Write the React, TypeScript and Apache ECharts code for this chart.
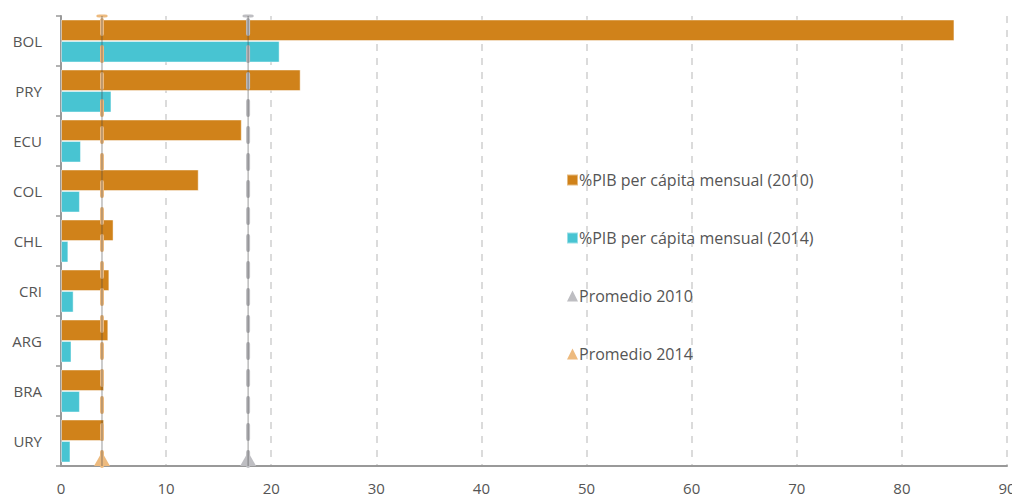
import React, { useEffect, useRef } from "react";
import * as echarts from "echarts";

const categories = ["BOL", "PRY", "ECU", "COL", "CHL", "CRI", "ARG", "BRA", "URY"];
const values2010 = [85.0, 22.8, 17.2, 13.1, 5.0, 4.6, 4.5, 4.1, 4.1];
const values2014 = [20.8, 4.8, 1.9, 1.8, 0.7, 1.2, 1.0, 1.8, 0.9];
const promedio2010 = 17.8;
const promedio2014 = 3.9;
const xTicks = [0, 10, 20, 30, 40, 50, 60, 70, 80, 90];

const C2010 = "#D0821A";
const C2014 = "#48C4D2";
const CP2010 = "#BEBEC2";
const CP2014 = "#EDBA7E";
const FONT = "Open Sans";

function avgSeries(name: string, v: number, color: string) {
  return [
    {
      name,
      type: "line",
      xAxisIndex: 0,
      yAxisIndex: 1,
      z: 5,
      lineStyle: { color, width: 4, type: [14, 13], cap: "round" },
      itemStyle: { color },
      data: [
        { value: [v, 0], symbol: "triangle", symbolSize: [16, 14], symbolOffset: [0, -7] },
        { value: [v, 1], symbol: "roundRect", symbolSize: [11, 3] },
      ],
    },
    {
      name: name + "_thin",
      type: "line",
      xAxisIndex: 0,
      yAxisIndex: 1,
      z: 6,
      symbol: "none",
      lineStyle: { color: "rgba(70,70,70,0.55)", width: 1 },
      data: [
        [v, 0],
        [v, 1],
      ],
    },
  ];
}

export default function App() {
  const ref = useRef<HTMLDivElement>(null);
  useEffect(() => {
    if (!ref.current) return;
    const chart = echarts.init(ref.current, undefined, { renderer: "svg" });
    chart.setOption({
      animation: false,
      textStyle: { fontFamily: FONT },
      grid: { left: 61, right: 5, top: 16, bottom: 32, containLabel: false, outerBoundsMode: "none" },
      legend: {
        orient: "vertical",
        left: 561,
        top: 167,
        itemGap: 42,
        itemWidth: 11,
        itemHeight: 11,
        textStyle: { fontSize: 16, color: "#555", fontFamily: FONT, padding: [0, 0, 0, -4] },
        data: [
          { name: "%PIB per cápita mensual (2010)", icon: "rect" },
          { name: "%PIB per cápita mensual (2014)", icon: "rect" },
          { name: "Promedio 2010", icon: "triangle" },
          { name: "Promedio 2014", icon: "triangle" },
        ],
      },
      xAxis: {
        type: "value",
        min: xTicks[0],
        max: xTicks[xTicks.length - 1],
        interval: 10,
        axisLine: { show: true, lineStyle: { color: "#999", width: 2 } },
        axisTick: { show: false },
        axisLabel: { color: "#555", fontSize: 15, margin: 14, fontFamily: FONT },
        splitLine: { show: true, lineStyle: { color: "#d0d0d0", width: 1.5, type: [7, 7] } },
      },
      yAxis: [
        {
          type: "category",
          data: categories,
          inverse: true,
          axisLine: { show: true, lineStyle: { color: "#999", width: 2 } },
          axisTick: { show: true, inside: false, length: 5, lineStyle: { color: "#999", width: 1.5 } },
          axisLabel: { color: "#555", fontSize: 15, margin: 19, fontFamily: FONT },
          splitLine: { show: false },
        },
        {
          type: "value",
          min: 0,
          max: 1,
          show: false,
          splitLine: { show: false },
        },
      ],
      series: [
        {
          name: "%PIB per cápita mensual (2010)",
          type: "bar",
          data: values2010,
          barGap: "0%",
          barCategoryGap: "14%",
          itemStyle: { color: C2010, borderColor: "rgba(255,255,255,0.45)", borderWidth: 1 },
        },
        {
          name: "%PIB per cápita mensual (2014)",
          type: "bar",
          data: values2014,
          barGap: "0%",
          barCategoryGap: "14%",
          itemStyle: { color: C2014, borderColor: "rgba(255,255,255,0.45)", borderWidth: 1 },
        },
        ...avgSeries("Promedio 2010", promedio2010, CP2010),
        ...avgSeries("Promedio 2014", promedio2014, CP2014),
      ],
    });
    return () => chart.dispose();
  }, []);
  return (
    <div
      ref={ref}
      style={{ position: "fixed", left: 0, top: 0, width: 1012, height: 498, background: "#fff" }}
    />
  );
}
